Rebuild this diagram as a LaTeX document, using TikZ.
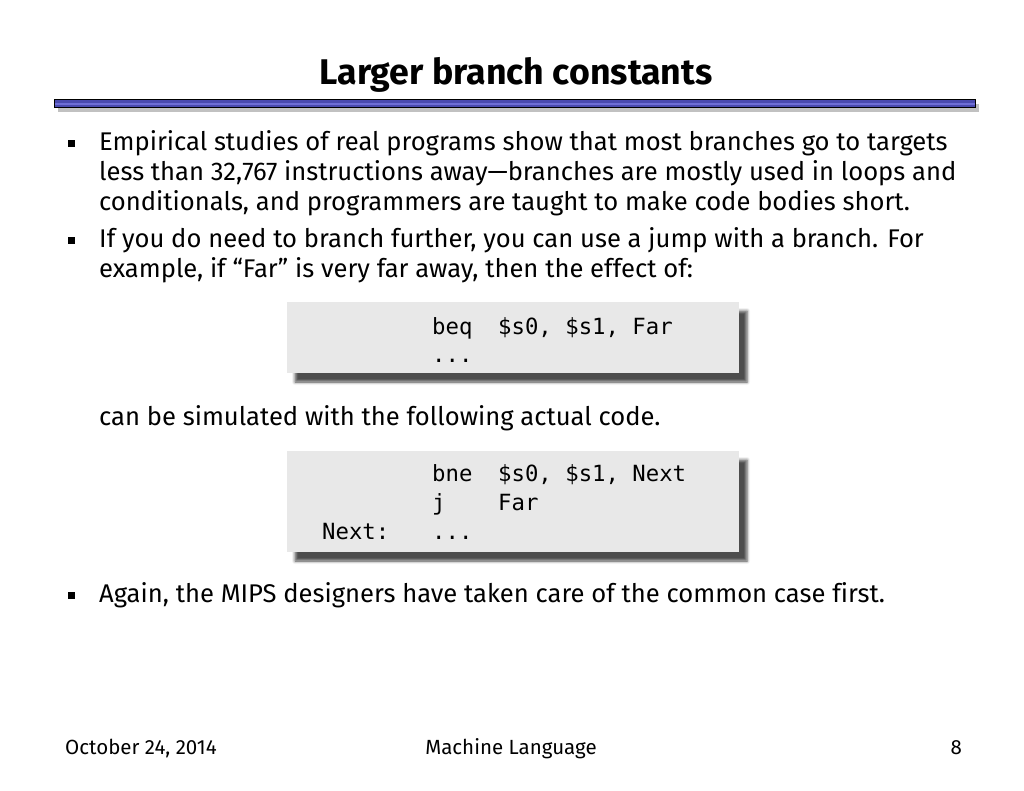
\documentclass[tikz,border=0pt]{standalone}
\usepackage{fontspec}
\setmainfont{Fira Sans}[Numbers=Lining, Ligatures=NoCommon]
\newfontfamily\codefont{DejaVu Sans Mono}
\usetikzlibrary{shadows.blur}
\definecolor{barblue}{HTML}{4A4AAE}
\definecolor{barlight}{HTML}{6E6ED6}
\definecolor{codebg}{HTML}{E8E8E8}
\tikzset{
  body/.style={anchor=base west, inner sep=0pt, font=\fontsize{25.6}{30}\selectfont},
  bul/.style={fill=black, minimum width=7pt, minimum height=7pt, inner sep=0pt},
  codebox/.style={fill=codebg, blur shadow={shadow xshift=8pt, shadow yshift=-9pt, shadow blur radius=3pt, shadow opacity=70}},
  code/.style={anchor=base west, inner sep=0pt, font=\codefont\fontsize{22.3}{26}\selectfont},
  foot/.style={anchor=base, inner sep=0pt, font=\fontsize{20.5}{24}\selectfont},
}
\begin{document}
\begin{tikzpicture}[x=1pt,y=-1pt]
\useasboundingbox (0,0) rectangle (1024,791);
% title
\node[anchor=base, inner sep=0pt, font=\bfseries\fontsize{35.7}{40}\selectfont] (title) at (516,85) {Larger branch constants};
% bar
\fill[gray!60, opacity=0.8] (58,104) rectangle (979,112);
\fill[barblue] (54,100) rectangle (975,108);
\fill[barlight] (54,103) rectangle (975,105);
\draw[black, line width=1pt] (54,100) rectangle (975,108);
% bullet 1
\node[bul] (b1) at (71.5,144) {};
\node[body] (t1a) at (99,151) {Empirical studies of real programs show that most branches go to targets};
\node[body] (t1b) at (99,181) {less than 32,767 instructions away\textemdash branches are mostly used in loops and};
\node[body] (t1c) at (99,211) {conditionals, and programmers are taught to make code bodies short.};
% bullet 2
\node[bul] (b2) at (71.5,241) {};
\node[body] (t2a) at (99,248) {If you do need to branch further, you can use a jump with a branch. For};
\node[body] (t2b) at (99,278) {example, if “Far” is very far away, then the effect of:};
% code box 1
\path[codebox] (287,302) rectangle (739,373);
\node[code] (c1a) at (432,334) {beq};
\node[code] (c1b) at (498,334) {\$s0, \$s1, Far};
\node[code] (c1c) at (432,362) {...};
% text
\node[body] (t3) at (99,425) {can be simulated with the following actual code.};
% code box 2
\path[codebox] (287,451) rectangle (739,552);
\node[code] (c2a) at (432,481) {bne};
\node[code] (c2b) at (498,481) {\$s0, \$s1, Next};
\node[code] (c2c) at (432,510) {j};
\node[code] (c2d) at (498,510) {Far};
\node[code] (c2e) at (322,539) {Next:};
\node[code] (c2f) at (432,539) {...};
% bullet 3
\node[bul] (b3) at (71.5,595) {};
\node[body] (t4) at (99,602) {Again, the MIPS designers have taken care of the common case first.};
% footer
\node[foot, anchor=base west] (f1) at (65,754) {October 24, 2014};
\node[foot] (f2) at (511,754) {Machine Language};
\node[foot, anchor=base east] (f3) at (962,754) {8};
\end{tikzpicture}
\end{document}
